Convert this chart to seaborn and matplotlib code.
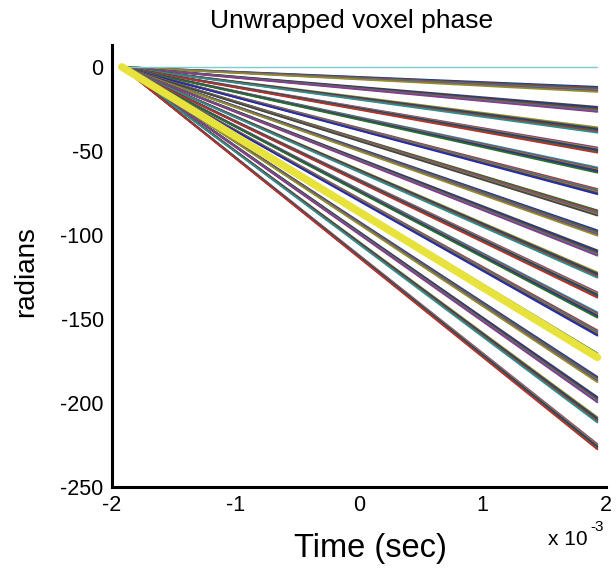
import numpy as np
import pandas as pd
import matplotlib
matplotlib.use("Agg")
import matplotlib.pyplot as plt
import seaborn as sns

# ---- data ----
time_start = -1.92e-3          # seconds
time_end = 1.93e-3             # seconds
# phase (radians) reached at time_end by each voxel; all start at 0
voxel_end_phase = [
    [-11.8, -12.4, -13.0, -13.6, -14.2, -14.8],
    [-23.7, -24.4, -25.0, -25.5, -26.1, -26.7],
    [-35.9, -36.7, -37.3, -37.8, -38.4, -39.1],
    [-47.9, -48.6, -49.2, -49.7, -50.3, -51.0],
    [-59.8, -60.5, -61.1, -61.6, -62.2, -62.9],
    [-72.6, -73.3, -74.0, -74.5, -75.1, -75.7],
    [-85.3, -86.0, -86.7, -87.2, -87.8, -88.4],
    [-97.2, -97.9, -98.6, -99.1, -99.7, -100.4],
    [-109.1, -109.8, -110.5, -111.0, -111.6, -112.3],
    [-122.2, -122.9, -123.6, -124.1, -124.7, -125.4],
    [-134.1, -134.8, -135.5, -136.0, -136.6, -137.3],
    [-146.0, -146.7, -147.4, -147.9, -148.5, -149.2],
    [-156.7, -157.4, -158.1, -158.6, -159.2, -159.9],
    [-170.4, -171.1, -171.8, -172.3, -172.9, -173.6],
    [-184.4, -185.1, -185.8, -186.3, -186.9, -187.6],
    [-196.4, -197.1, -197.8, -198.3, -198.9, -199.6],
    [-208.4, -209.1, -209.8, -210.3, -210.9, -211.6],
    [-224.4, -225.1, -225.8, -226.3, -226.9, -227.6],
]
reference_end_phase = 0.0        # flat cyan voxel
highlight_end_phase = -172.8     # thick yellow voxel

x_ticks = [-2e-3, -1e-3, 0.0, 1e-3, 2e-3]
x_tick_labels = ["-2", "-1", "0", "1", "2"]
y_ticks = [0, -50, -100, -150, -200, -250]
y_tick_labels = ["0", "-50", "-100", "-150", "-200", "-250"]

line_colors = ["#2a2ab0", "#2a702a", "#b83030", "#2a9090",
               "#8a3a8a", "#8f8f2a", "#454545"]

# ---- build long-form table ----
rows = []
vid = 0
for band in voxel_end_phase:
    for end in band:
        rows.append({"time": time_start, "phase": 0.0, "voxel": vid})
        rows.append({"time": time_end, "phase": end, "voxel": vid})
        vid += 1
df = pd.DataFrame(rows)
n_vox = vid
palette = [line_colors[i % len(line_colors)] for i in range(n_vox)]

ref_df = pd.DataFrame({"time": [time_start, time_end],
                       "phase": [0.0, reference_end_phase]})
hi_df = pd.DataFrame({"time": [time_start, time_end],
                      "phase": [0.0, highlight_end_phase]})

# ---- style ----
sns.set_theme(style="white")
plt.rcParams["font.family"] = ["Liberation Sans", "DejaVu Sans"]
plt.rcParams["axes.unicode_minus"] = False
plt.rcParams["text.color"] = "black"
plt.rcParams["xtick.color"] = "black"
plt.rcParams["ytick.color"] = "black"

fig = plt.figure(figsize=(6.16, 5.71), dpi=100)
W, H = 616, 571
ax = fig.add_axes([112 / W, 1 - 487 / H, (606 - 112) / W, (487 - 45) / H])

sns.lineplot(data=df, x="time", y="phase", hue="voxel", palette=palette,
             estimator=None, legend=False, linewidth=1.3, ax=ax)
sns.lineplot(data=ref_df, x="time", y="phase", color="#7fcaca",
             linewidth=1.0, ax=ax)
sns.lineplot(data=hi_df, x="time", y="phase", color="#e8e23c",
             linewidth=5.5, ax=ax, solid_capstyle="round")

ax.set_xlim(-2e-3, 2e-3)
ax.set_ylim(-250, 13.1)
ax.set_xticks(x_ticks)
ax.set_xticklabels(x_tick_labels)
ax.set_yticks(y_ticks)
ax.set_yticklabels(y_tick_labels)
ax.tick_params(direction="in", length=4, width=1, labelsize=15.5,
               colors="black", labelcolor="black", pad=6)
ax.tick_params(axis="x", pad=6)

for s in ["top", "right"]:
    ax.spines[s].set_visible(False)
for s in ["left", "bottom"]:
    ax.spines[s].set_color("black")
    ax.spines[s].set_linewidth(2.2)

ax.set_xlabel("")
ax.set_ylabel("")
fig.text(370 / W, 1 - 557 / H, "Time (sec)", fontsize=23.5,
         ha="center", va="baseline", color="black")
fig.text(26 / W, 1 - 272 / H, "radians", fontsize=20, rotation=90,
         ha="center", va="center", color="black")
fig.text(352 / W, 1 - 28 / H, "Unwrapped voxel phase", fontsize=19,
         ha="center", va="baseline", color="black")
fig.text(548 / W, 1 - 545 / H, "x 10", fontsize=15,
         ha="left", va="baseline", color="black")
fig.text(590 / W, 1 - 531 / H, "-3", fontsize=11,
         ha="left", va="baseline", color="black")

fig.savefig("out.png", dpi=100)
